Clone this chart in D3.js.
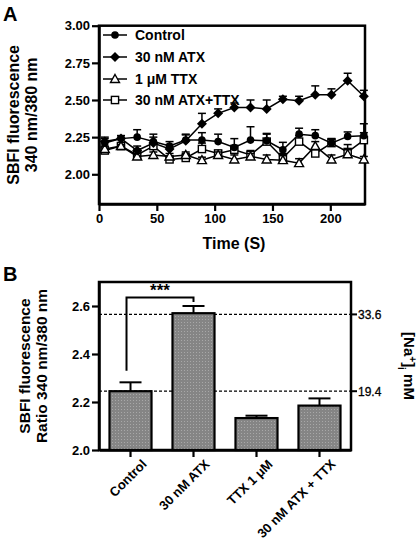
<!DOCTYPE html>
<html><head><meta charset="utf-8">
<script src="https://cdn.jsdelivr.net/npm/d3@7"></script>
<style>
html,body{margin:0;padding:0;background:#fff;}
svg{display:block;font-family:"Liberation Sans",Arial,sans-serif;font-weight:bold;}
</style></head>
<body>
<svg id="chart" width="420" height="549"></svg>
<script>
// ---------- Panel A data ----------
const timePoints = [5,19,33,47,61,75,89,103,117,131,145,159,173,187,201,215,229];
const seriesNames = ["Control","30 nM ATX","1 \u03bcM TTX","30 nM ATX+TTX"];
const controlVals = [2.21,2.24,2.25,2.22,2.19,2.23,2.23,2.22,2.18,2.23,2.225,2.165,2.27,2.26,2.21,2.255,2.26];
const controlErr  = [0.03,0.02,0.05,0.05,0.03,0.04,0.05,0.05,0.06,0.09,0.05,0.05,0.04,0.04,0.03,0.03,0.08];
const atxVals     = [2.22,2.24,2.16,2.21,2.17,2.225,2.34,2.41,2.45,2.45,2.44,2.505,2.495,2.535,2.535,2.63,2.525];
const atxErr      = [0.03,0.02,0.03,0.04,0.03,0.04,0.07,0.03,0.03,0.05,0.06,0.02,0.03,0.06,0.04,0.05,0.04];
const ttxVals     = [2.17,2.19,2.12,2.13,2.12,2.13,2.095,2.13,2.10,2.12,2.10,2.095,2.075,2.19,2.10,2.135,2.10];
const ttxErr      = [0.02,0.01,0.02,0.02,0.02,0.02,0.02,0.02,0.03,0.02,0.03,0.03,0.03,0.03,0.03,0.03,0.02];
const atxTtxVals  = [2.16,2.19,2.13,2.19,2.10,2.11,2.17,2.14,2.165,2.13,2.22,2.11,2.22,2.14,2.21,2.15,2.23];
const atxTtxErr   = [0.02,0.02,0.04,0.02,0.02,0.03,0.04,0.02,0.03,0.03,0.05,0.03,0.04,0.03,0.03,0.05,0.05];
const xTicksA = [0,50,100,150,200];
const yTicksA = [2.00,2.25,2.50,2.75,3.00];

// ---------- Panel B data ----------
const barCategories = ["Control","30 nM ATX","TTX 1 \u03bcM","30 nM ATX + TTX"];
const barValues = [2.245,2.57,2.133,2.185];
const barErrors = [0.037,0.03,0.01,0.03];
const yTicksB = [2.0,2.2,2.4,2.6];
const naRefValues = [2.245,2.565];
const naRefLabels = ["19.4","33.6"];

const svg = d3.select("#chart");

// pattern for bars
const defs = svg.append("defs");
const pat = defs.append("pattern").attr("id","dots").attr("patternUnits","userSpaceOnUse")
  .attr("width",3).attr("height",3);
pat.append("rect").attr("width",3).attr("height",3).attr("fill","#858585");
pat.append("rect").attr("x",1).attr("y",1).attr("width",1).attr("height",1).attr("fill","#a8a8a8");

// ================= PANEL A =================
const xA = d3.scaleLinear().domain([0,230]).range([99,365]);
const yA = d3.scaleLinear().domain([1.8,3.0]).range([204,25.7]);

svg.append("text").attr("x",3).attr("y",21).attr("font-size",20).text("A");

// frame
svg.append("rect").attr("x",xA(0)).attr("y",yA(3.0)).attr("width",xA(230)-xA(0)).attr("height",yA(1.8)-yA(3.0))
  .attr("fill","none").attr("stroke","#000").attr("stroke-width",2.5);

const axAx = svg.append("g").attr("transform",`translate(0,${yA(1.8)})`)
  .call(d3.axisBottom(xA).tickValues(xTicksA).tickSize(7).tickSizeOuter(0).tickPadding(3));
const axAy = svg.append("g").attr("transform",`translate(${xA(0)},0)`)
  .call(d3.axisLeft(yA).tickValues(yTicksA).tickFormat(d3.format(".2f")).tickSize(7).tickSizeOuter(0).tickPadding(2));
[axAx,axAy].forEach(g=>{
  g.select(".domain").attr("stroke-width",2.5);
  g.selectAll(".tick line").attr("stroke-width",2.2);
  g.selectAll("text").attr("font-size",13).attr("font-weight","bold").attr("font-family","Liberation Sans, Arial, sans-serif").attr("fill","#000");
});

svg.append("text").attr("x",xA(115)+2).attr("y",249).attr("text-anchor","middle").attr("font-size",16).text("Time (S)");
const yLabA = svg.append("text").attr("transform",`translate(19,${(yA(1.8)+yA(3.0))/2}) rotate(-90)`)
  .attr("text-anchor","middle").attr("font-size",16);
yLabA.append("tspan").attr("x",0).attr("dy",0).text("SBFI fluorescence");
yLabA.append("tspan").attr("x",0).attr("dy",18).text("340 nm/380 nm");

const seriesA = [
  {vals:controlVals, err:controlErr, sym:"circle"},
  {vals:atxVals, err:atxErr, sym:"diamond"},
  {vals:ttxVals, err:ttxErr, sym:"triangle"},
  {vals:atxTtxVals, err:atxTtxErr, sym:"square"}
];
function drawMarker(g, sym, x, y){
  if(sym==="circle") g.append("circle").attr("cx",x).attr("cy",y).attr("r",3.8).attr("fill","#000");
  else if(sym==="diamond") g.append("path").attr("d",`M${x},${y-5}L${x+5},${y}L${x},${y+5}L${x-5},${y}Z`).attr("fill","#000");
  else if(sym==="triangle") g.append("path").attr("d",`M${x},${y-4.5}L${x+4.5},${y+3.5}L${x-4.5},${y+3.5}Z`).attr("fill","#fff").attr("stroke","#000").attr("stroke-width",1.4);
  else g.append("rect").attr("x",x-3.6).attr("y",y-3.6).attr("width",7.2).attr("height",7.2).attr("fill","#fff").attr("stroke","#000").attr("stroke-width",1.4);
}
const line = d3.line().x((d,i)=>xA(timePoints[i])).y(d=>yA(d));
const gA = svg.append("g");
[3,2,1,0].forEach(si=>{
  const s = seriesA[si];
  const g = gA.append("g");
  s.vals.forEach((v,i)=>{
    const x=xA(timePoints[i]);
    g.append("line").attr("x1",x).attr("x2",x).attr("y1",yA(v)).attr("y2",yA(v+s.err[i])).attr("stroke","#000").attr("stroke-width",1.5);
    g.append("line").attr("x1",x-4).attr("x2",x+4).attr("y1",yA(v+s.err[i])).attr("y2",yA(v+s.err[i])).attr("stroke","#000").attr("stroke-width",1.5);
  });
  g.append("path").datum(s.vals).attr("d",line).attr("fill","none").attr("stroke","#000").attr("stroke-width",1.5);
  s.vals.forEach((v,i)=>drawMarker(g,s.sym,xA(timePoints[i]),yA(v)));
});

// legend
const legY = [35,57,79,100];
seriesNames.forEach((n,i)=>{
  const g = svg.append("g");
  g.append("line").attr("x1",103).attr("x2",127).attr("y1",legY[i]).attr("y2",legY[i]).attr("stroke","#000").attr("stroke-width",1.5);
  drawMarker(g,seriesA[i].sym,115,legY[i]);
  g.append("text").attr("x",135).attr("y",legY[i]+5).attr("font-size",14).text(n);
});

// ================= PANEL B =================
svg.append("text").attr("x",3).attr("y",281).attr("font-size",20).text("B");

const xB = d3.scaleBand().domain(barCategories).range([99,351]).paddingInner(0.333).paddingOuter(0.1667);
const yB = d3.scaleLinear().domain([2.0,2.7]).range([450,282]);

svg.append("rect").attr("x",99).attr("y",yB(2.7)).attr("width",351-99).attr("height",yB(2.0)-yB(2.7))
  .attr("fill","none").attr("stroke","#000").attr("stroke-width",2.5);

naRefValues.forEach((v,i)=>{
  svg.append("line").attr("x1",99).attr("x2",351).attr("y1",yB(v)).attr("y2",yB(v))
    .attr("stroke","#000").attr("stroke-width",1.3).attr("stroke-dasharray","3,2");
  svg.append("line").attr("x1",351).attr("x2",357).attr("y1",yB(v)).attr("y2",yB(v)).attr("stroke","#000").attr("stroke-width",2);
  svg.append("text").attr("x",358).attr("y",yB(v)+4.5).attr("font-size",12).attr("font-weight","normal").attr("stroke","#000").attr("stroke-width",0.3).text(naRefLabels[i]);
});

barCategories.forEach((c,i)=>{
  const x = xB(c), w = xB.bandwidth(), cx = x+w/2;
  svg.append("line").attr("x1",cx).attr("x2",cx).attr("y1",yB(barValues[i])).attr("y2",yB(barValues[i]+barErrors[i])).attr("stroke","#000").attr("stroke-width",2);
  svg.append("line").attr("x1",cx-11).attr("x2",cx+11).attr("y1",yB(barValues[i]+barErrors[i])).attr("y2",yB(barValues[i]+barErrors[i])).attr("stroke","#000").attr("stroke-width",2);
  svg.append("rect").attr("x",x).attr("y",yB(barValues[i])).attr("width",w).attr("height",yB(2.0)-yB(barValues[i]))
    .attr("fill","url(#dots)").attr("stroke","#000").attr("stroke-width",2.2);
});

const axBx = svg.append("g").attr("transform",`translate(0,${yB(2.0)})`)
  .call(d3.axisBottom(xB).tickSize(7).tickSizeOuter(0).tickPadding(4));
axBx.selectAll("text").attr("text-anchor","end").attr("transform","translate(6,4) rotate(-45)").attr("dy","0.35em");
const axBy = svg.append("g").attr("transform",`translate(99,0)`)
  .call(d3.axisLeft(yB).tickValues(yTicksB).tickFormat(d3.format(".1f")).tickSize(7).tickSizeOuter(0).tickPadding(2));
[axBx,axBy].forEach(g=>{
  g.select(".domain").attr("stroke-width",2.5);
  g.selectAll(".tick line").attr("stroke-width",2.2);
  g.selectAll("text").attr("font-size",13).attr("font-weight","bold").attr("font-family","Liberation Sans, Arial, sans-serif").attr("fill","#000");
});

const c0 = xB(barCategories[0])+xB.bandwidth()/2 - 4;
const c1 = xB(barCategories[1])+xB.bandwidth()/2;
svg.append("path").attr("d",`M${c0},${yB(2.33)}V${yB(2.635)}H${c1}V${yB(2.617)}`)
  .attr("fill","none").attr("stroke","#000").attr("stroke-width",2);
svg.append("text").attr("x",(c0+c1)/2).attr("y",yB(2.635)-2).attr("text-anchor","middle").attr("font-size",17).text("***");

const yLabB = svg.append("text").attr("transform",`translate(30,${(yB(2.0)+yB(2.7))/2}) rotate(-90)`)
  .attr("text-anchor","middle").attr("font-size",15.5);
yLabB.append("tspan").attr("x",0).attr("dy",0).text("SBFI fluorescence");
yLabB.append("tspan").attr("x",0).attr("dy",17).text("Ratio 340 nm/380 nm");

const rLab = svg.append("text").attr("transform",`translate(404,366) rotate(90)`).attr("text-anchor","middle").attr("font-size",15);
rLab.append("tspan").text("[Na");
rLab.append("tspan").attr("baseline-shift","super").attr("font-size",10).text("+");
rLab.append("tspan").text("]");
rLab.append("tspan").attr("baseline-shift","sub").attr("font-size",10).text("i");
rLab.append("tspan").text(" mM");
</script>
</body></html>
